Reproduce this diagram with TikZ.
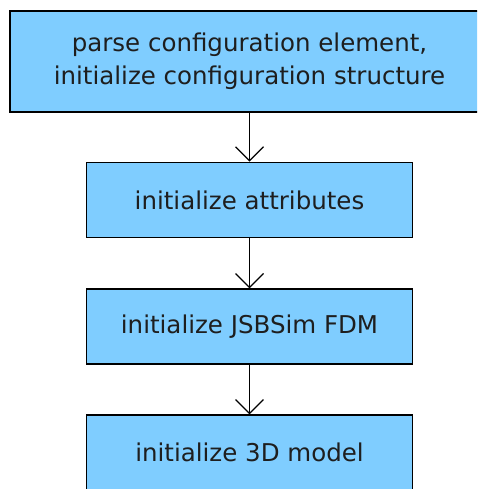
\documentclass[tikz,border=0pt]{standalone}
\usepackage{fontspec}
\setmainfont{DejaVu Sans}
\usetikzlibrary{arrows.meta}
\definecolor{boxblue}{RGB}{127,205,255}
\definecolor{txt}{RGB}{30,30,30}
\tikzset{
  stepbox/.style={draw=black, line width=1.3pt, fill=boxblue, text=txt,
    font=\fontsize{24.5}{33}\selectfont, align=center, inner sep=0pt},
  flow/.style={line width=1.3pt, -{Straight Barb[length=14pt,width=28pt,line width=1.2pt]}}
}
\begin{document}
\begin{tikzpicture}[x=1pt,y=-1pt]
\clip (0,0) rectangle (477,489);
\node[stepbox, minimum width=479pt, minimum height=101pt] (a) at (249.5,61.5)
  {parse configuration element,\\initialize configuration structure};
\node[stepbox, minimum width=326.5pt, minimum height=75.5pt] (b) at (249.5,200)
  {initialize attributes};
\node[stepbox, minimum width=326.5pt, minimum height=75pt] (c) at (249.5,326.5)
  {initialize JSBSim FDM};
\node[stepbox, minimum width=326.5pt, minimum height=75pt] (d) at (249.5,452.5)
  {initialize 3D model};
\draw[flow] (a.south) -- (b.north);
\draw[flow] (b.south) -- (c.north);
\draw[flow] (c.south) -- (d.north);
\end{tikzpicture}
\end{document}
